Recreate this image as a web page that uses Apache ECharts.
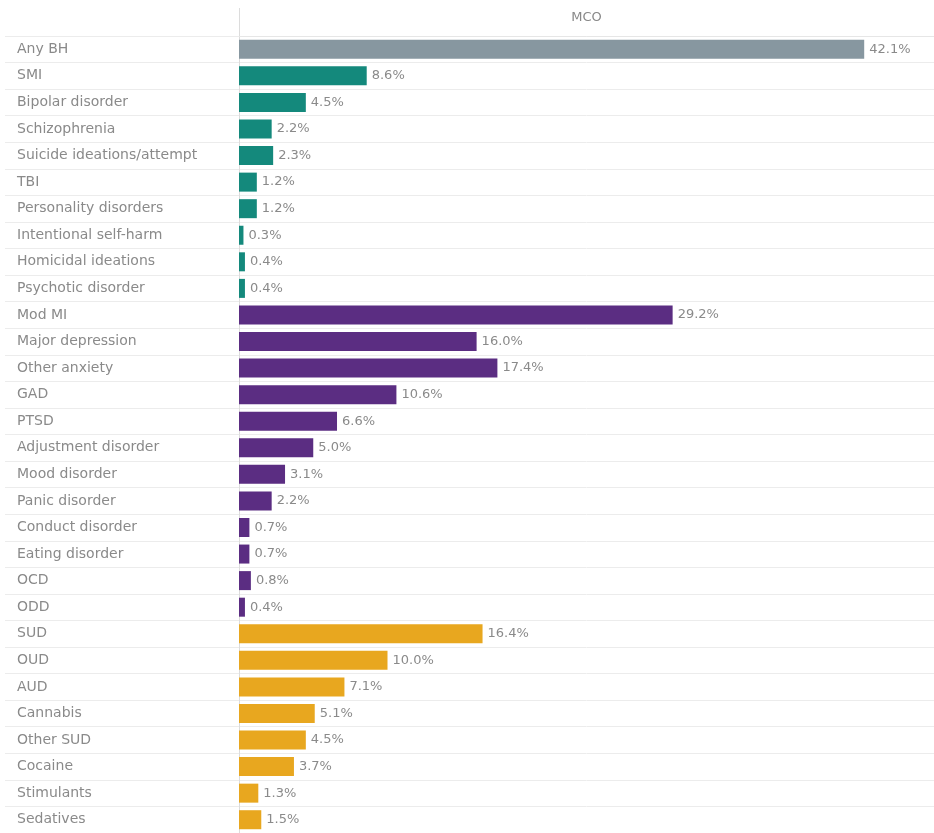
<!DOCTYPE html>
<html><head><meta charset="utf-8">
<script src="https://cdn.jsdelivr.net/npm/echarts@6/dist/echarts.min.js"></script>
<style>html,body{margin:0;padding:0;background:#fff}#c{width:934px;height:833px}</style>
</head><body><div id="c"></div>
<script>
const categories = ["Any BH","SMI","Bipolar disorder","Schizophrenia","Suicide ideations/attempt","TBI","Personality disorders","Intentional self-harm","Homicidal ideations","Psychotic disorder","Mod MI","Major depression","Other anxiety","GAD","PTSD","Adjustment disorder","Mood disorder","Panic disorder","Conduct disorder","Eating disorder","OCD","ODD","SUD","OUD","AUD","Cannabis","Other SUD","Cocaine","Stimulants","Sedatives"];
const values = [42.1,8.6,4.5,2.2,2.3,1.2,1.2,0.3,0.4,0.4,29.2,16.0,17.4,10.6,6.6,5.0,3.1,2.2,0.7,0.7,0.8,0.4,16.4,10.0,7.1,5.1,4.5,3.7,1.3,1.5];
const groups = ["any","smi","smi","smi","smi","smi","smi","smi","smi","smi","mmi","mmi","mmi","mmi","mmi","mmi","mmi","mmi","mmi","mmi","mmi","mmi","sud","sud","sud","sud","sud","sud","sud","sud"];
const groupColors = {any:"#8797a0", smi:"#14897c", mmi:"#5b2d82", sud:"#e8a71f"};
const columnTitle = "MCO";

const chart = echarts.init(document.getElementById('c'));
chart.setOption({
  animation:false,
  grid:{left:239, top:36, width:695, height:799, containLabel:false},
  xAxis:{type:'value', position:'top', min:0, max:46.8,
    name:columnTitle, nameLocation:'middle', nameGap:12,
    nameTextStyle:{color:'#888', fontFamily:'DejaVu Sans', fontSize:13},
    axisLabel:{show:false}, axisTick:{show:false}, splitLine:{show:false},
    axisLine:{show:true, lineStyle:{color:'#e6e6e6', width:1}}},
  yAxis:{type:'category', inverse:true, data:categories,
    axisLine:{show:true, lineStyle:{color:'#dcdcdc'}},
    axisTick:{show:true, length:234, interval:0, lineStyle:{color:'#ececec'}},
    splitLine:{show:true, interval:0, lineStyle:{color:'#ececec'}},
    axisLabel:{align:'left', margin:222, color:'#8a8a8a', fontFamily:'DejaVu Sans', fontSize:14, interval:0}},
  graphic:[{type:'line', shape:{x1:239.5,y1:8,x2:239.5,y2:36}, style:{stroke:'#dcdcdc', lineWidth:1}}],
  series:[{type:'bar', barWidth:19,
    data:values.map((v,i)=>({value:v, itemStyle:{color:groupColors[groups[i]]}})),
    label:{show:true, position:'right', distance:5, color:'#8a8a8a', fontFamily:'DejaVu Sans', fontSize:13,
      formatter:p=>p.value.toFixed(1)+'%'}}]
});
</script></body></html>
